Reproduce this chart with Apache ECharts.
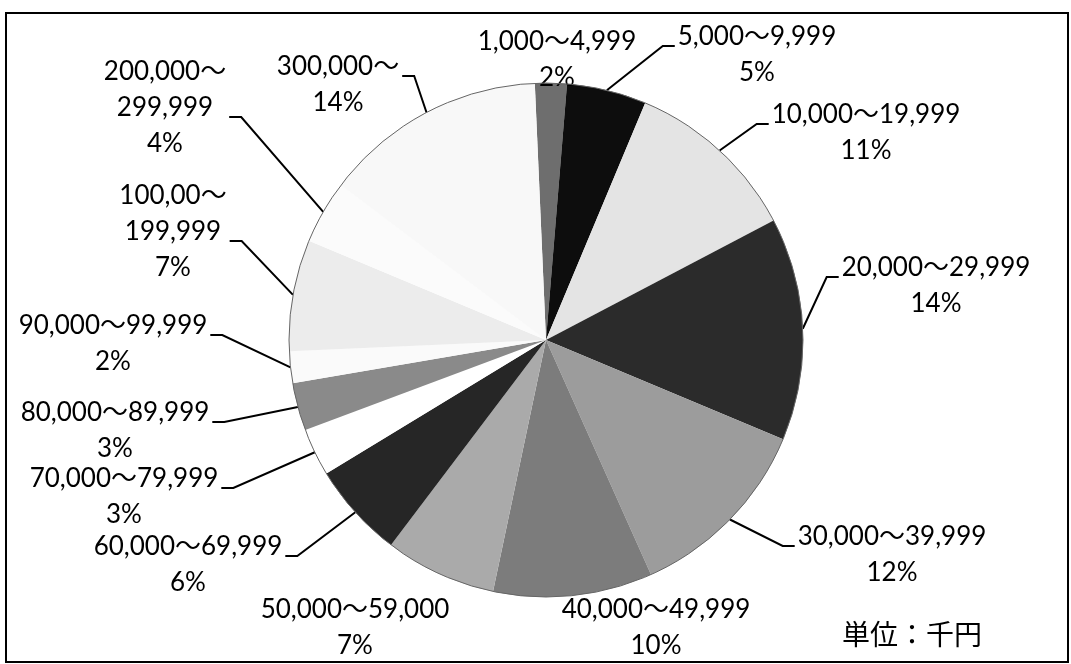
<!DOCTYPE html>
<html>
<head>
<meta charset="utf-8">
<script src="https://cdn.jsdelivr.net/npm/echarts@6/dist/echarts.min.js"></script>
<style>
html,body{margin:0;padding:0;background:#fff;}
#chart{width:1071px;height:664px;}
</style>
</head>
<body>
<div id="chart"></div>
<script>
// ---- data ----
const categories = [
  '1,000～4,999', '5,000～9,999', '10,000～19,999', '20,000～29,999',
  '30,000～39,999', '40,000～49,999', '50,000～59,000', '60,000～69,999',
  '70,000～79,999', '80,000～89,999', '90,000～99,999', '100,00～\n199,999',
  '200,000～\n299,999', '300,000～'
];
const shares = [2, 5, 11, 14, 12, 10, 7, 6, 3, 3, 2, 7, 4, 14];
const unitText = '単位：千円';

// ---- styles / layout ----
const sliceColors = ['#6e6e6e', '#0d0d0d', '#e4e4e4', '#2b2b2b', '#9c9c9c', '#7c7c7c', '#aaaaaa',
  '#262626', '#ffffff', '#8a8a8a', '#fafafa', '#ececec', '#fbfbfb', '#f8f8f8'];
const hasLeader = [false, true, true, true, true, false, false, true, true, true, true, true, true, true];
const labelPos = [
  [557, 60], [757, 55], [866, 133], [936, 286], [892, 555], [656, 628], [355, 628],
  [188, 565], [124, 497], [115, 431], [113, 344], [173, 232], [165, 108], [338, 85]
];
const CX = 546, CY = 340, R = 257, START = 92.5;

const total = shares.reduce((a, b) => a + b, 0);
const midAngles = [];
let acc = 0;
shares.forEach(v => { midAngles.push((acc + v / 2) / total * 360 - (START - 90)); acc += v; });

const chart = echarts.init(document.getElementById('chart'), null, {renderer: 'canvas'});
const FONT = 'Lato, "Noto Sans CJK JP", sans-serif';

chart.setOption({
  backgroundColor: '#fff',
  animation: false,
  graphic: [
    {type: 'rect', shape: {x: 6, y: 13, width: 1062, height: 649},
     style: {fill: null, stroke: '#000', lineWidth: 2}, z: 0},
    {type: 'circle', shape: {cx: CX, cy: CY, r: R},
     style: {fill: null, stroke: '#666', lineWidth: 1}, z: 5, silent: true},
    {type: 'text', x: 842, y: 634,
     style: {text: unitText, fill: '#000', font: '28px "Noto Sans CJK JP", sans-serif', textVerticalAlign: 'middle'}, z: 10}
  ],
  series: [{
    type: 'pie',
    center: [CX, CY],
    radius: R,
    startAngle: START,
    clockwise: true,
    avoidLabelOverlap: false,
    emphasis: {disabled: true},
    itemStyle: {borderWidth: 0},
    label: {
      show: true,
      position: 'outside',
      color: '#000',
      fontFamily: FONT,
      fontSize: 26,
      lineHeight: 36,
      align: 'center',
      formatter: p => p.name + '\n' + p.value + '%'
    },
    labelLine: {show: true, length: 10, length2: 10, smooth: false,
      lineStyle: {color: '#000', width: 2}},
    labelLayout: function (p) {
      const i = p.dataIndex;
      const pos = labelPos[i];
      const w = p.labelRect.width;
      const res = {x: pos[0], y: pos[1], align: 'center', verticalAlign: 'middle'};
      if (!hasLeader[i]) return res;
      const side = pos[0] < CX ? 1 : -1;
      const nLines = categories[i].split('\n').length + 1;
      const yL = pos[1] + (nLines === 3 ? 9 : -9);
      const xEdge = side > 0 ? pos[0] + w / 2 + 3 : pos[0] - w / 2 - 3;
      const xElbow = xEdge + side * 12;
      const a = midAngles[i] * Math.PI / 180;
      const ax = CX + R * Math.sin(a), ay = CY - R * Math.cos(a);
      res.labelLinePoints = [[ax, ay], [xElbow, yL], [xEdge, yL]];
      return res;
    },
    data: categories.map((c, i) => ({
      name: c,
      value: shares[i],
      itemStyle: {color: sliceColors[i]},
      labelLine: {show: hasLeader[i]}
    }))
  }]
});
</script>
</body>
</html>
